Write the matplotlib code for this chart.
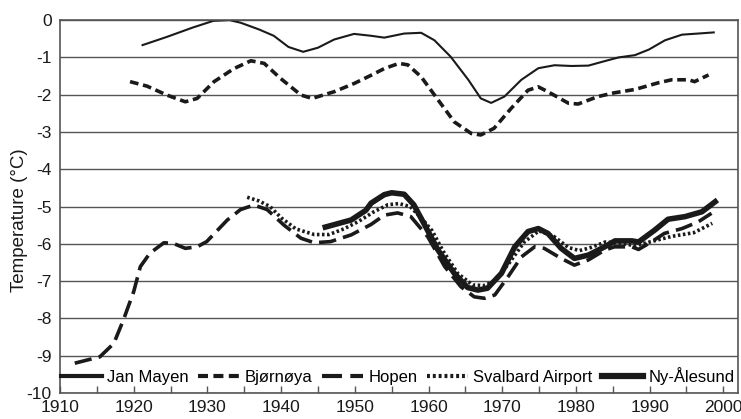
import numpy as np
import matplotlib
matplotlib.use("Agg")
import matplotlib.pyplot as plt
from matplotlib.ticker import MultipleLocator

plt.rcParams['font.family'] = ['Liberation Sans', 'DejaVu Sans']
plt.rcParams['axes.unicode_minus'] = False

# smoothed annual mean temperature per station
jm_years = [1921.2, 1924.5, 1928, 1930.8, 1933, 1934.5, 1937, 1939, 1941, 1943, 1945,
            1947.2, 1949.9, 1952.2, 1954, 1956.7, 1959, 1960.8, 1963, 1965.4, 1967.1,
            1968.5, 1970.3, 1972.6, 1974.9, 1977.1, 1979.4, 1981.7, 1983.9, 1985.8,
            1988, 1989.9, 1992.1, 1994.4, 1996.6, 1998.7]
jm_temp = [-0.67, -0.45, -0.2, -0.02, 0.0, -0.07, -0.25, -0.42, -0.72, -0.85, -0.74,
           -0.52, -0.37, -0.42, -0.47, -0.36, -0.34, -0.54, -0.98, -1.6, -2.1,
           -2.22, -2.05, -1.6, -1.29, -1.21, -1.23, -1.22, -1.1, -1.0,
           -0.94, -0.79, -0.54, -0.39, -0.36, -0.33]

bj_years = [1919.5, 1921.8, 1924.5, 1927, 1928.6, 1930.9, 1933.6, 1935.9, 1937.7, 1939.9,
            1942.7, 1944.2, 1947.2, 1949.9, 1952.2, 1954, 1956, 1957.2, 1959, 1961.3,
            1963.5, 1965.8, 1967.1, 1968.9, 1971.2, 1973.5, 1974.9, 1976.2, 1979,
            1980.3, 1983, 1985.2, 1988, 1991.2, 1993, 1995.3, 1996.1, 1998]
bj_temp = [-1.65, -1.77, -2.01, -2.19, -2.1, -1.65, -1.3, -1.09, -1.16, -1.56,
           -2.01, -2.1, -1.92, -1.7, -1.48, -1.3, -1.16, -1.2, -1.52, -2.14,
           -2.73, -3.04, -3.08, -2.9, -2.37, -1.88, -1.79, -1.92, -2.23,
           -2.25, -2.05, -1.95, -1.86, -1.68, -1.6, -1.6, -1.65, -1.47]

ho_years = [1912, 1915.4, 1917.3, 1918.6, 1920, 1920.9, 1922.2, 1924.1, 1925.4, 1927,
            1928.6, 1929.9, 1932.7, 1934.5, 1936.3, 1938.1, 1940.4, 1942.7, 1944.5,
            1946.7, 1949.5, 1952.2, 1954, 1955.8, 1957.6, 1959.9, 1962.2, 1964.4,
            1966.2, 1967.6, 1969, 1970.8, 1972.6, 1974.4, 1975.7, 1978, 1979.8,
            1981.7, 1983.9, 1985.2, 1987.6, 1988.5, 1990.3, 1992, 1994.4, 1996.6, 1998.4]
ho_temp = [-9.2, -9.03, -8.67, -8.04, -7.28, -6.61, -6.25, -5.97, -5.99, -6.12,
           -6.08, -5.94, -5.36, -5.08, -4.96, -5.08, -5.5, -5.85, -5.97,
           -5.94, -5.76, -5.48, -5.23, -5.17, -5.27, -5.81, -6.61, -7.15,
           -7.42, -7.46, -7.37, -6.88, -6.35, -6.08, -6.12, -6.39, -6.57,
           -6.43, -6.17, -6.08, -6.08, -6.15, -5.94, -5.72, -5.59, -5.41, -5.18]

sv_years = [1935.4, 1937, 1938.5, 1940, 1942, 1944.5, 1946.5, 1948.5, 1950.5, 1952.5,
            1954.5, 1956, 1957.5, 1959, 1960.5, 1962, 1964, 1966, 1967.5, 1969,
            1971, 1973, 1975, 1977, 1979, 1980.5, 1982, 1984, 1986, 1988, 1990,
            1993, 1996, 1998.5]
sv_temp = [-4.75, -4.85, -5.0, -5.3, -5.6, -5.75, -5.75, -5.6, -5.4, -5.15,
           -4.95, -4.92, -5.0, -5.3, -5.65, -6.2, -6.8, -7.1, -7.12, -7.0,
           -6.5, -5.95, -5.65, -5.8, -6.1, -6.18, -6.1, -5.95, -5.98, -6.05, -5.95,
           -5.8, -5.7, -5.45]

na_years = [1946, 1949.5, 1951.5, 1952.2, 1954, 1955, 1956.7, 1958, 1959.5, 1961.3,
            1963.5, 1965.3, 1966.7, 1968, 1969.9, 1971.7, 1973.5, 1974.9, 1976.2,
            1978, 1979.8, 1981.7, 1983.9, 1985.3, 1987.6, 1988.5, 1990.7, 1992.5,
            1994.8, 1997.1, 1998.9]
na_temp = [-5.55, -5.36, -5.1, -4.91, -4.68, -4.63, -4.67, -4.95, -5.5, -6.17,
           -6.79, -7.17, -7.24, -7.19, -6.79, -6.08, -5.67, -5.59, -5.72,
           -6.12, -6.39, -6.3, -6.08, -5.92, -5.92, -5.95, -5.63, -5.34,
           -5.27, -5.14, -4.87]

ink = '#1a1a1a'
grid = '#555555'

fig = plt.figure(figsize=(7.41, 4.19), dpi=100)
ax = fig.add_axes([0.081, 0.062, 0.915, 0.890])

ax.plot(jm_years, jm_temp, color=ink, lw=1.5, label='Jan Mayen')
ax.plot(bj_years, bj_temp, color=ink, lw=2.6, dashes=(2.4, 1.3), label='Bjørnøya')
ax.plot(ho_years, ho_temp, color=ink, lw=2.6, dashes=(4.8, 2.0), label='Hopen')
ax.plot(sv_years, sv_temp, color=ink, lw=2.6, dashes=(0.7, 0.7), label='Svalbard Airport')
ax.plot(na_years, na_temp, color=ink, lw=4.0, label='Ny-Ålesund')

ax.set_xlim(1910, 2002)
ax.set_ylim(-10, 0)
ax.xaxis.set_major_locator(MultipleLocator(10))
ax.xaxis.set_minor_locator(MultipleLocator(5))
ax.yaxis.set_major_locator(MultipleLocator(1))
ax.tick_params(axis='x', which='both', direction='in', length=5, width=1,
               color=grid, labelsize=12.5, pad=5, labelcolor=ink)
ax.tick_params(axis='y', length=0, labelsize=12.5, pad=6, labelcolor=ink)
ax.grid(axis='y', color=grid, lw=1)
for s in ax.spines.values():
    s.set_color(grid)
    s.set_linewidth(1.2)

ax.set_ylabel('Temperature (°C)', fontsize=13.5, color=ink)
ax.yaxis.set_label_coords(-0.047, 0.464)

leg = ax.legend(loc='center left', bbox_to_anchor=(0.001, 0.045), ncol=5, frameon=False,
                fontsize=12, handlelength=2.5, handletextpad=0.3, columnspacing=0.55,
                borderpad=0, borderaxespad=0)
for h in leg.get_lines():
    h.set_linewidth(3.0)
leg.get_lines()[-1].set_linewidth(4.5)

fig.savefig('out.png', dpi=100)
